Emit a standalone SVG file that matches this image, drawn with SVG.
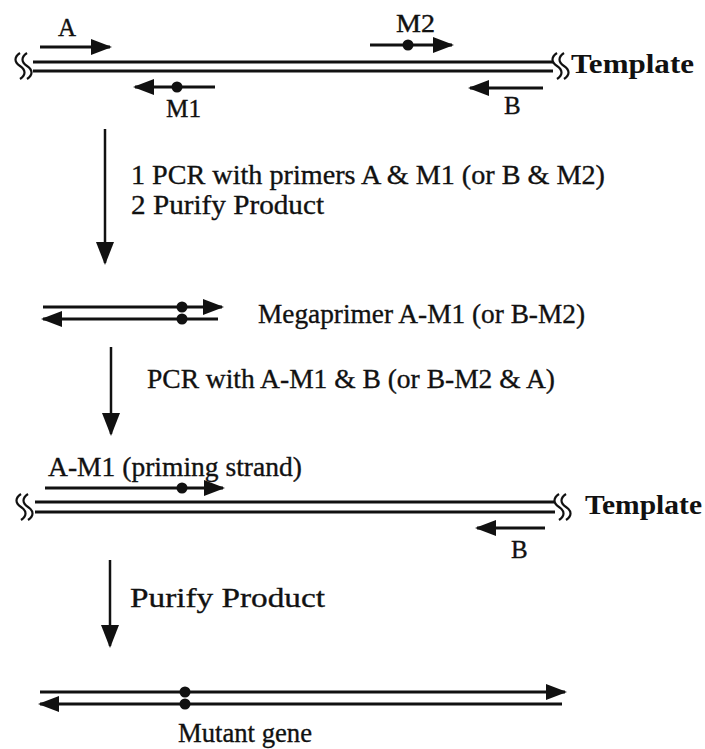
<svg xmlns="http://www.w3.org/2000/svg" width="705" height="749" viewBox="0 0 705 749">
<defs>
<style>
.t{font-family:"Liberation Serif","Times New Roman",serif;font-size:28px;fill:#111;stroke:#111;stroke-width:0.35}
.l{font-family:"Liberation Serif","Times New Roman",serif;font-size:25px;fill:#111;stroke:#111;stroke-width:0.35}
.tb{font-family:"Liberation Serif","Times New Roman",serif;font-size:27px;font-weight:bold;fill:#111}
.s{stroke:#111;stroke-width:3;fill:none}
.v{stroke:#111;stroke-width:2.5;fill:none}
.w{stroke:#111;stroke-width:2.2;fill:none}
.d{fill:#111}
</style>
<marker id="ah" markerUnits="userSpaceOnUse" markerWidth="22" markerHeight="18" refX="19" refY="8" orient="auto">
<path d="M0,0 L21,8 L0,16 z" fill="#111"/>
</marker>
<marker id="av" markerUnits="userSpaceOnUse" markerWidth="24" markerHeight="20" refX="21" refY="9" orient="auto">
<path d="M0,0 L23,9 L0,18 z" fill="#111"/>
</marker>
<path id="sq" d="M0,0 c-6,4 -6,9 0,13 s6,9 0,13"/>
</defs>
<rect width="705" height="749" fill="#fff"/>

<g id="template1">
<line class="s" x1="33" y1="62" x2="553" y2="62"/>
<line class="s" x1="33" y1="71" x2="553" y2="71"/>
<use href="#sq" class="w" x="20" y="53"/>
<use href="#sq" class="w" x="27" y="53"/>
<use href="#sq" class="w" x="557" y="53"/>
<use href="#sq" class="w" x="564" y="53"/>
<text class="tb" x="571" y="73" textLength="123" lengthAdjust="spacingAndGlyphs">Template</text>
</g>
<g id="primerA">
<line class="s" x1="40" y1="47" x2="110" y2="47" marker-end="url(#ah)"/>
<text class="l" x="58" y="36">A</text>
</g>
<g id="primerM2">
<line class="s" x1="370" y1="45" x2="452" y2="45" marker-end="url(#ah)"/>
<circle class="d" cx="408" cy="45" r="5.5"/>
<text class="l" x="396" y="32" textLength="39" lengthAdjust="spacingAndGlyphs">M2</text>
</g>
<g id="primerM1">
<line class="s" x1="215" y1="87" x2="135" y2="87" marker-end="url(#ah)"/>
<circle class="d" cx="177" cy="87" r="5.5"/>
<text class="l" x="166" y="117" textLength="35" lengthAdjust="spacingAndGlyphs">M1</text>
</g>
<g id="primerB1">
<line class="s" x1="543" y1="88" x2="470" y2="88" marker-end="url(#ah)"/>
<text class="l" x="504" y="114">B</text>
</g>

<g id="connectors">
<line class="v" x1="105" y1="129" x2="105" y2="263" marker-end="url(#av)"/>
<line class="v" x1="111" y1="347" x2="111" y2="434" marker-end="url(#av)"/>
<line class="v" x1="110" y1="560" x2="110" y2="646" marker-end="url(#av)"/>
</g>

<g id="step1">
<text class="t" x="131" y="184" textLength="474" lengthAdjust="spacingAndGlyphs">1  PCR with primers A &amp; M1 (or B &amp; M2)</text>
<text class="t" x="131" y="214" textLength="193" lengthAdjust="spacingAndGlyphs">2  Purify Product</text>
</g>

<g id="megaprimer">
<line class="s" x1="43" y1="307" x2="222" y2="307" marker-end="url(#ah)"/>
<line class="s" x1="218" y1="319" x2="43" y2="319" marker-end="url(#ah)"/>
<circle class="d" cx="182" cy="307" r="5.5"/>
<circle class="d" cx="182" cy="319" r="5.5"/>
<text class="t" x="258" y="323" textLength="327" lengthAdjust="spacingAndGlyphs">Megaprimer A-M1 (or B-M2)</text>
</g>

<g id="step2">
<text class="t" x="147" y="388" textLength="408" lengthAdjust="spacingAndGlyphs">PCR with A-M1 &amp; B (or B-M2 &amp; A)</text>
</g>

<g id="priming">
<text class="t" x="48" y="476" textLength="254" lengthAdjust="spacingAndGlyphs">A-M1 (priming strand)</text>
<line class="s" x1="45" y1="488" x2="223" y2="488" marker-end="url(#ah)"/>
<circle class="d" cx="182" cy="488" r="5.5"/>
</g>

<g id="template2">
<line class="s" x1="35" y1="502" x2="555" y2="502"/>
<line class="s" x1="35" y1="512" x2="555" y2="512"/>
<use href="#sq" class="w" x="21" y="494"/>
<use href="#sq" class="w" x="28" y="494"/>
<use href="#sq" class="w" x="559" y="494"/>
<use href="#sq" class="w" x="566" y="494"/>
<text class="tb" x="585" y="514" textLength="117" lengthAdjust="spacingAndGlyphs">Template</text>
</g>
<g id="primerB2">
<line class="s" x1="545" y1="528" x2="477" y2="528" marker-end="url(#ah)"/>
<text class="l" x="511" y="558">B</text>
</g>

<g id="step3">
<text class="t" x="130" y="607" textLength="195" lengthAdjust="spacingAndGlyphs">Purify Product</text>
</g>

<g id="mutant">
<line class="s" x1="40" y1="692" x2="565" y2="692" marker-end="url(#ah)"/>
<line class="s" x1="562" y1="704" x2="40" y2="704" marker-end="url(#ah)"/>
<circle class="d" cx="185" cy="692" r="5.5"/>
<circle class="d" cx="185" cy="704" r="5.5"/>
<text class="t" x="178" y="742" textLength="134" lengthAdjust="spacingAndGlyphs">Mutant gene</text>
</g>
</svg>
